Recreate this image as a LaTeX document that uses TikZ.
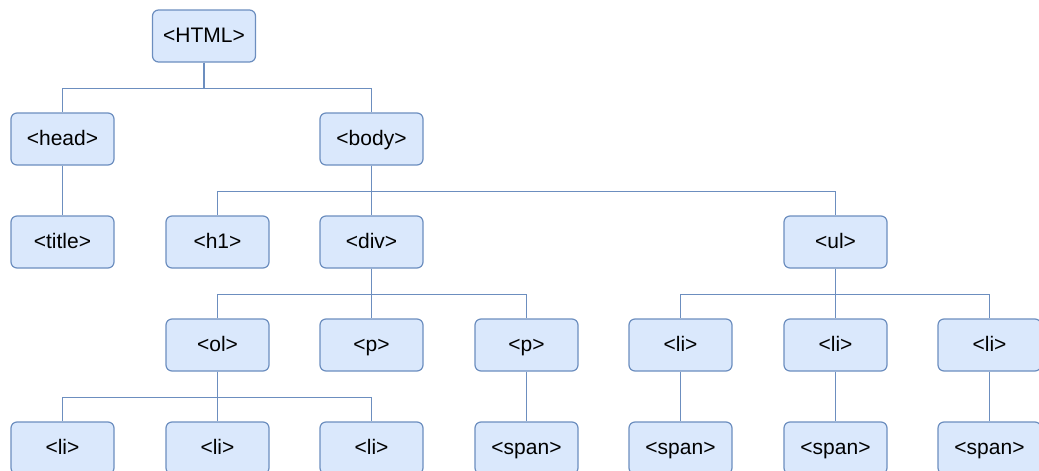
\documentclass[tikz,border=0pt]{standalone}
\usepackage{fontspec}
\setmainfont{Liberation Sans}
\definecolor{boxfill}{HTML}{DAE8FC}
\definecolor{boxline}{HTML}{6C8EBF}
\begin{document}
\begin{tikzpicture}[x=1pt,y=-1pt,
  tag/.style={draw=boxline,fill=boxfill,line width=1.2pt,rounded corners=6pt,
    minimum width=103pt,minimum height=52pt,inner sep=0pt,
    text height=15pt,text depth=3pt,
    font=\fontsize{21}{24}\selectfont,text=black},
  link/.style={draw=boxline,line width=1.2pt}]
\useasboundingbox (0,0) rectangle (1039,471);
\clip (0,0) rectangle (1039,471);
% column centres
\def\cA{62.5}\def\cB{217.5}\def\cC{371.5}\def\cD{526.5}
\def\cE{680.5}\def\cF{835.5}\def\cG{989.5}
% nodes
\node[tag] (html) at (204,36) {<HTML>};
\node[tag] (head) at (\cA,139) {<head>};
\node[tag] (body) at (\cC,139) {<body>};
\node[tag] (title) at (\cA,242) {<title>};
\node[tag] (h1) at (\cB,242) {<h1>};
\node[tag] (div) at (\cC,242) {<div>};
\node[tag] (ul) at (\cF,242) {<ul>};
\node[tag] (ol) at (\cB,345) {<ol>};
\node[tag] (p1) at (\cC,345) {<p>};
\node[tag] (p2) at (\cD,345) {<p>};
\node[tag] (li1) at (\cE,345) {<li>};
\node[tag] (li2) at (\cF,345) {<li>};
\node[tag] (li3) at (\cG,345) {<li>};
\node[tag] (oli1) at (\cA,448) {<li>};
\node[tag] (oli2) at (\cB,448) {<li>};
\node[tag] (oli3) at (\cC,448) {<li>};
\node[tag] (span0) at (\cD,448) {<span>};
\node[tag] (span1) at (\cE,448) {<span>};
\node[tag] (span2) at (\cF,448) {<span>};
\node[tag] (span3) at (\cG,448) {<span>};
% tree connectors: down, across, down
\foreach \p/\c in {html/head,html/body,head/title,body/h1,body/div,body/ul,
    div/ol,div/p1,div/p2,ol/oli1,ol/oli2,ol/oli3,p2/span0,
    ul/li1,ul/li2,ul/li3,li1/span1,li2/span2,li3/span3}
  \draw[link] (\p.south) -- ++(0,25.5) -| (\c.north);
\end{tikzpicture}
\end{document}
